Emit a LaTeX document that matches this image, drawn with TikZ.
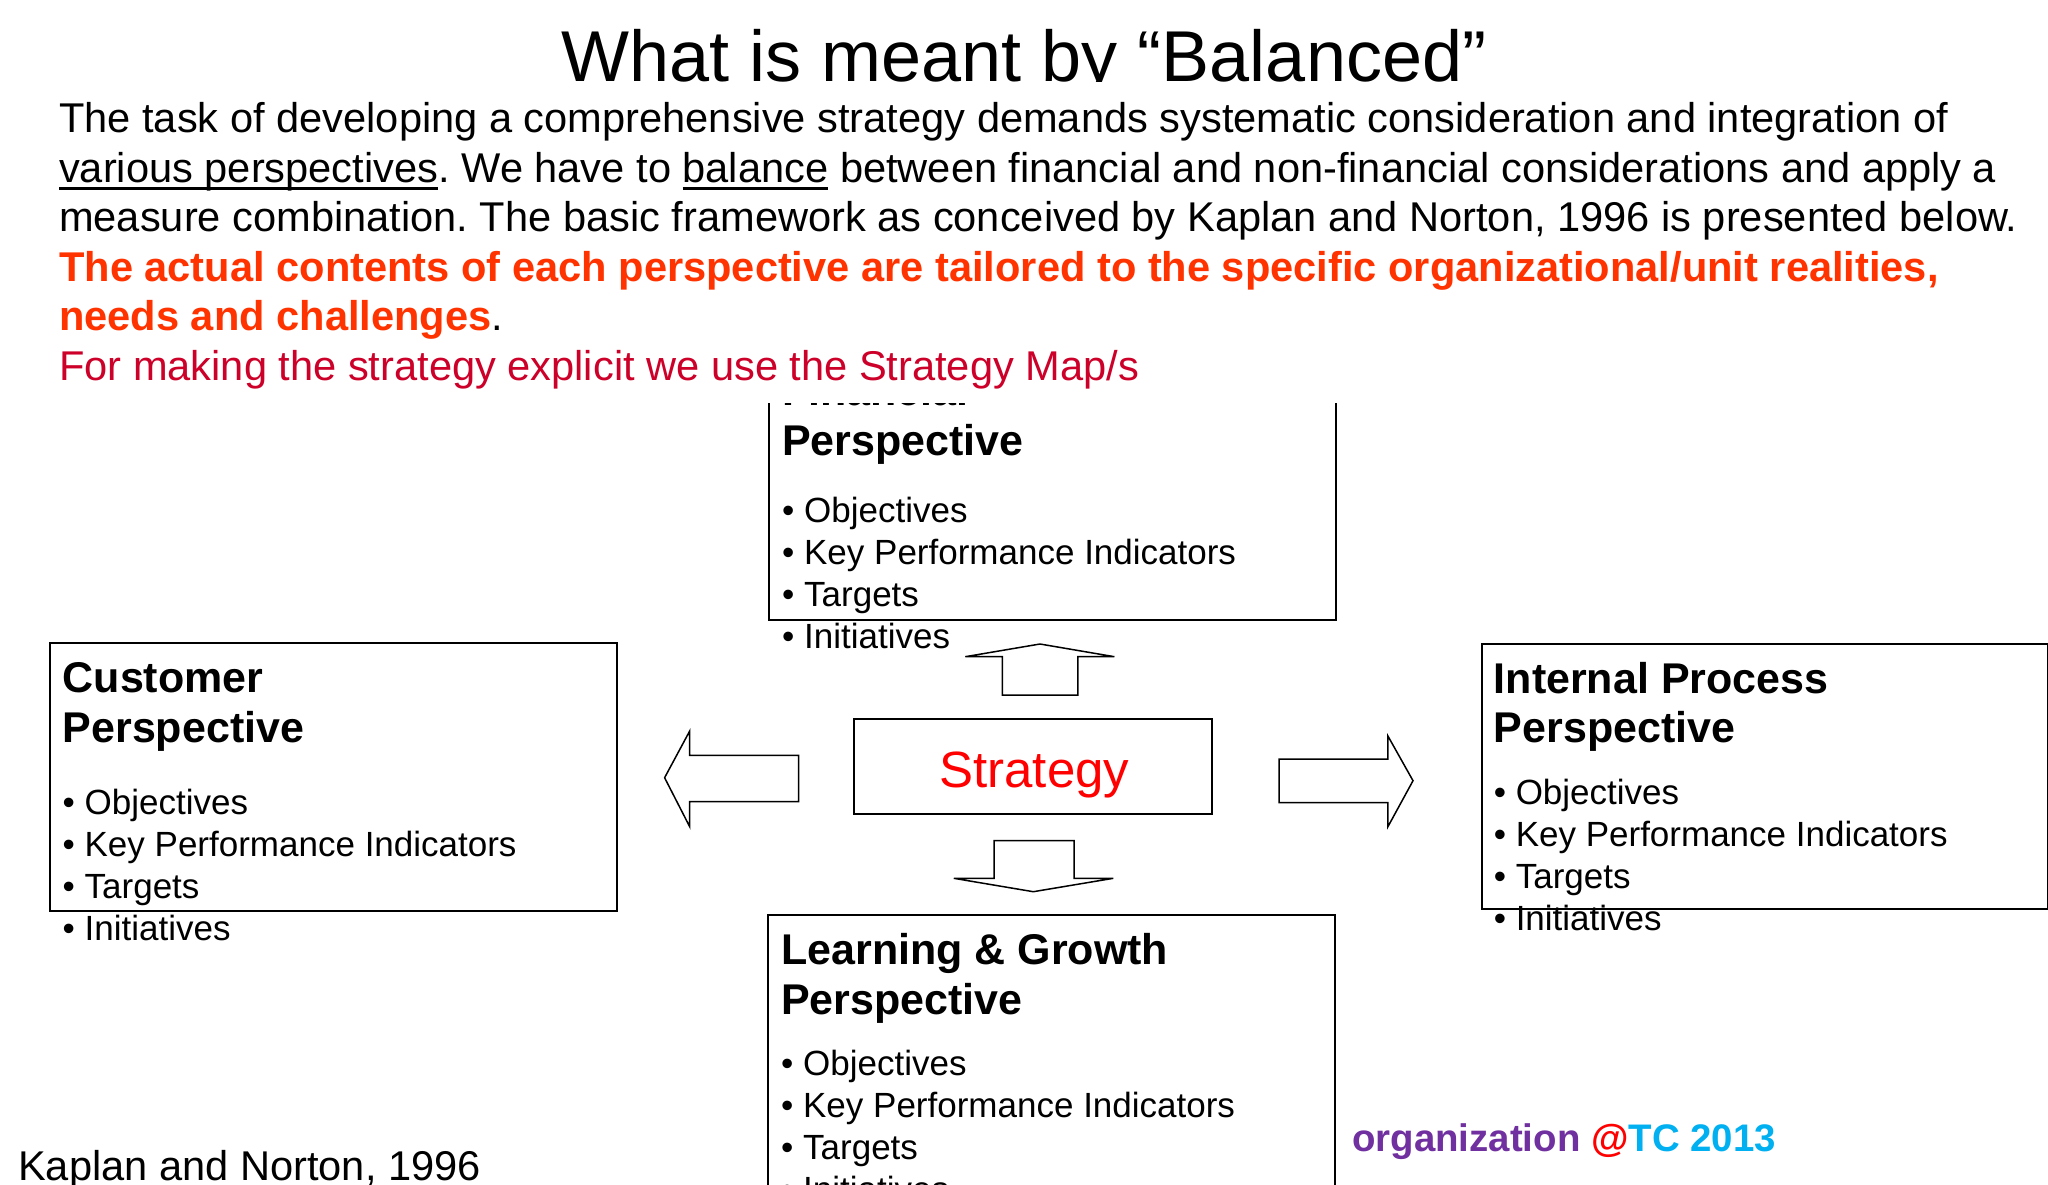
\documentclass[tikz,border=0pt]{standalone}
\usepackage{fontspec}
\setmainfont{Liberation Sans}
\usetikzlibrary{positioning,calc}
\frenchspacing
\definecolor{hotred}{RGB}{255,51,0}
\definecolor{mapred}{RGB}{204,0,41}
\definecolor{orgpurple}{RGB}{112,48,160}
\definecolor{orgcyan}{RGB}{0,176,240}
\newsavebox\undlbox
\newcommand{\undl}[1]{\sbox\undlbox{#1}\rlap{\rule[-7.3bp]{\wd\undlbox}{2.6bp}}\usebox\undlbox}
\tikzstyle{persbox}=[draw, line width=2bp, inner sep=0pt, anchor=north west]
\tikzstyle{headtxt}=[anchor=base west, inner sep=0pt, font=\fontsize{43bp}{50bp}\selectfont\bfseries]
\tikzstyle{itemtxt}=[anchor=base west, inner sep=0pt, font=\fontsize{35bp}{42bp}\selectfont]
\tikzstyle{paratxt}=[anchor=base west, inner sep=0pt, font=\fontsize{41.6bp}{49.5bp}\selectfont]
\tikzstyle{blockarrow}=[draw, line width=1.5bp, fill=white, line join=miter]

\begin{document}
\begin{tikzpicture}[x=1bp, y=-1bp]
\useasboundingbox (0,0) rectangle (2048,1184);
\clip (0,0) rectangle (2048,1184);
\fill[white] (0,0) rectangle (2048,1184);

% title
\node[anchor=base, inner sep=0pt, font=\fontsize{72bp}{80bp}\selectfont] (title) at (1024,81) {What is meant by “Balanced”};

% the four perspectives
\node[persbox, minimum width=567bp, minimum height=263bp] (financial) at (768,356) {};
\node[headtxt] (finHead1) at ($(financial.north west)+(14,49)$) {Financial};
\node[headtxt] (finHead2) at ($(financial.north west)+(14,99.5)$) {Perspective};
\foreach \txt [count=\i] in {Objectives,Key Performance Indicators,Targets,Initiatives}
  \node[itemtxt] (fin\i) at ($(financial.north west)+(14,124.5+42*\i)$) {\textbullet\ \txt};

\node[persbox, minimum width=567.5bp, minimum height=268.3bp] (customer) at (48.5,641.7) {};
\node[headtxt] (custHead1) at ($(customer.north west)+(14,50.3)$) {Customer};
\node[headtxt] (custHead2) at ($(customer.north west)+(14,100.3)$) {Perspective};
\foreach \txt [count=\i] in {Objectives,Key Performance Indicators,Targets,Initiatives}
  \node[itemtxt] (cust\i) at ($(customer.north west)+(14,130.3+42*\i)$) {\textbullet\ \txt};

\node[persbox, minimum width=566.4bp, minimum height=265bp] (internal) at (1480.6,643) {};
\node[headtxt] (intHead1) at ($(internal.north west)+(13,50)$) {Internal Process};
\node[headtxt] (intHead2) at ($(internal.north west)+(13,99.5)$) {Perspective};
\foreach \txt [count=\i] in {Objectives,Key Performance Indicators,Targets,Initiatives}
  \node[itemtxt] (int\i) at ($(internal.north west)+(13,119.7+42*\i)$) {\textbullet\ \txt};

\node[persbox, minimum width=567bp, minimum height=300bp] (learning) at (767,914) {};
\node[headtxt] (learnHead1) at ($(learning.north west)+(14,50)$) {Learning \& Growth};
\node[headtxt] (learnHead2) at ($(learning.north west)+(14,100)$) {Perspective};
\foreach \txt [count=\i] in {Objectives,Key Performance Indicators,Targets,Initiatives}
  \node[itemtxt] (learn\i) at ($(learning.north west)+(14,119+42*\i)$) {\textbullet\ \txt};

% strategy in the middle
\node[draw, line width=2bp, inner sep=0pt, minimum width=358bp, minimum height=95bp] (strategy) at (1033,766.5) {};
\node[anchor=base, inner sep=0pt, text=red, font=\fontsize{51bp}{56bp}\selectfont] (stratText) at ($(strategy.center)+(1.4,21)$) {Strategy};

% block arrows
\draw[blockarrow] (1002.4,695) -- (1002.4,656.7) -- (965.3,656.7) -- (1040,644) -- (1114.4,656.7) -- (1077.8,656.7) -- (1077.8,695) -- cycle;
\draw[blockarrow] (994,840.7) -- (1074,840.7) -- (1074,878.3) -- (1113.3,878.3) -- (1033.3,891.7) -- (953.8,878.3) -- (994,878.3) -- cycle;
\draw[blockarrow] (798.5,755.3) -- (689.7,755.3) -- (689.7,731) -- (664.6,777.7) -- (689.7,826.7) -- (689.7,801.7) -- (798.5,801.7) -- cycle;
\draw[blockarrow] (1279,759) -- (1387.9,759) -- (1387.9,736) -- (1413,780.7) -- (1387.9,826.7) -- (1387.9,802.7) -- (1279,802.7) -- cycle;

% text block lies over the top box
\fill[white] (40,82) rectangle (2030,403);
\node[paratxt] (line1) at (59,132.7) {The task of developing a comprehensive strategy demands systematic consideration and integration of};
\node[paratxt] (line2) at (59,182.3) {\undl{various perspectives}. We have to \undl{balance} between financial and non-financial considerations and apply a};
\node[paratxt] (line3) at (59,231.7) {measure combination. The basic framework as conceived by Kaplan and Norton, 1996 is presented below.};
\node[paratxt, text=hotred, font=\fontsize{41.6bp}{49.5bp}\selectfont\bfseries] (line4) at (59,281.7) {The actual contents of each perspective are tailored to the specific organizational/unit realities,};
\node[paratxt] (line5) at (59,330.7) {{\bfseries\color{hotred}needs and challenges}.};
\node[paratxt, text=mapred] (line6) at (59,380) {For making the strategy explicit we use the Strategy Map/s};

% footer
\node[anchor=base west, inner sep=0pt, font=\fontsize{38.4bp}{42bp}\selectfont\bfseries] (orgTag) at (1352,1151) {\textcolor{orgpurple}{organization} \textcolor{red}{@}\textcolor{orgcyan}{TC 2013}};
\node[paratxt] (source) at (18,1180) {Kaplan and Norton, 1996};
\end{tikzpicture}
\end{document}
